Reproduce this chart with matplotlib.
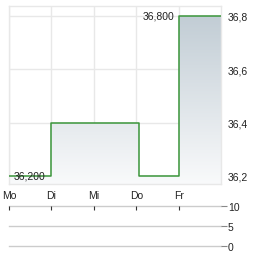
import matplotlib
matplotlib.use("Agg")
import matplotlib.pyplot as plt
import numpy as np
from matplotlib.colors import LinearSegmentedColormap
from matplotlib.patches import Polygon

days = ['Mo', 'Di', 'Mi', 'Do', 'Fr']
day_pos = [0, 1, 2, 3, 4]
step_x = [0, 1, 3.06, 4, 5]
step_y = [36.2, 36.4, 36.2, 36.8, 36.8]
yticks = [36.2, 36.4, 36.6, 36.8]
ytick_labels = ['36,2', '36,4', '36,6', '36,8']
low_label = '36,200'
high_label = '36,800'
vol_ticks = [0, 5, 10]
vol_labels = ['0', '5', '10']

plt.rcParams['font.family'] = ['Liberation Sans', 'DejaVu Sans']
fs = 7.5
tc = '#222222'
grid_c = '#e8e8e8'

fig = plt.figure(figsize=(2.64, 2.55), dpi=100)
W, H = 264, 255
ax = fig.add_axes([9 / W, 1 - 185 / H, 212 / W, 178 / H])
ymin, ymax = 36.17, 36.8375
ax.set_xlim(0, 5)
ax.set_ylim(ymin, ymax)

# gradient fill under the step line
cmap = LinearSegmentedColormap.from_list('g', ['#f9fafb', '#c2cdd5'])
grad = np.linspace(0, 1, 256).reshape(-1, 1)
im = ax.imshow(grad, extent=[0, 5, ymin, 36.8], origin='lower', cmap=cmap,
               aspect='auto', zorder=1, interpolation='bilinear')
verts = []
for i in range(len(step_x) - 1):
    verts.append((step_x[i], step_y[i]))
    verts.append((step_x[i + 1], step_y[i]))
poly_pts = [(step_x[0], ymin)] + verts + [(step_x[-1], ymin)]
clip = Polygon(poly_pts, closed=True, transform=ax.transData, facecolor='none', edgecolor='none')
ax.add_patch(clip)
im.set_clip_path(clip)

ax.plot(step_x, step_y, drawstyle='steps-post', color='#3a953a', lw=1.1, zorder=3)

ax.set_xticks(day_pos)
ax.set_xticklabels(days, fontsize=fs, color=tc)
ax.set_yticks(yticks)
ax.set_yticklabels(ytick_labels, fontsize=fs, color=tc)
ax.yaxis.tick_right()
ax.tick_params(axis='both', length=0)
ax.tick_params(axis='x', pad=4)
ax.tick_params(axis='y', pad=5)
ax.grid(True, color=grid_c, lw=1, zorder=0)
ax.set_axisbelow(True)
for s in ax.spines.values():
    s.set_color(grid_c)
    s.set_linewidth(1)

ax.text(0.1, step_y[0], low_label, fontsize=fs, color=tc, va='center', ha='left', zorder=4)
ax.text(3.9, step_y[3], high_label, fontsize=fs, color=tc, va='center', ha='right', zorder=4)

# volume panel
vax = fig.add_axes([9 / W, 1 - 247 / H, 212 / W, 40 / H])
vax.set_xlim(0, 5)
vax.set_ylim(0, 10)
for s in vax.spines.values():
    s.set_visible(False)
for v in vol_ticks:
    vax.axhline(v, color='#cccccc', lw=1, zorder=1, clip_on=False)
vax.set_xticks(day_pos)
vax.xaxis.tick_top()
vax.tick_params(axis='x', direction='in', length=3, color='#333333', labeltop=False, width=0.8)
vax.set_yticks(vol_ticks)
vax.set_yticklabels(vol_labels, fontsize=fs, color=tc)
vax.yaxis.tick_right()
vax.tick_params(axis='y', length=4, color='#888888', pad=1)

fig.savefig('out.png', dpi=100)
